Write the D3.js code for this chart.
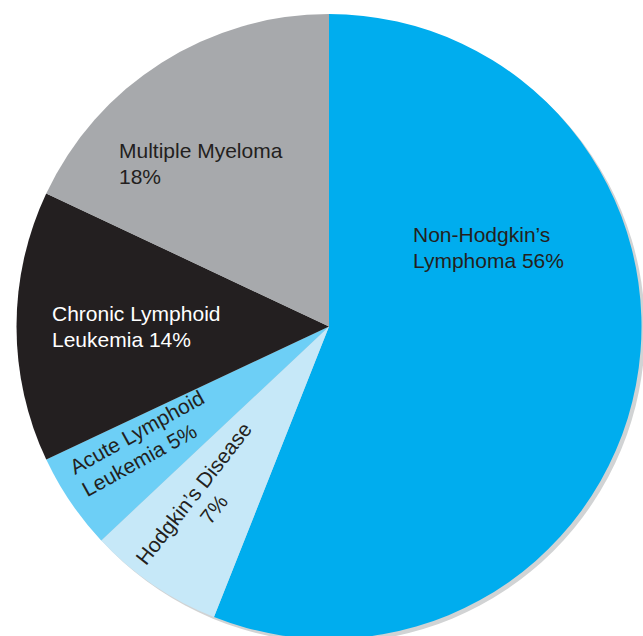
<!DOCTYPE html>
<html>
<head>
<meta charset="utf-8">
<script src="https://cdn.jsdelivr.net/npm/d3@7"></script>
<style>
  html, body { margin: 0; padding: 0; background: #fff; }
  svg { display: block; }
</style>
</head>
<body>
<div id="chart"></div>
<script>
// data
const categories = ["Non-Hodgkin’s Lymphoma", "Hodgkin’s Disease", "Acute Lymphoid Leukemia", "Chronic Lymphoid Leukemia", "Multiple Myeloma"];
const values = [56, 7, 5, 14, 18];
const labelLines = [
    ["Non-Hodgkin’s", "Lymphoma 56%"],
    ["Hodgkin’s Disease", "7%"],
    ["Acute Lymphoid", "Leukemia 5%"],
    ["Chronic Lymphoid", "Leukemia 14%"],
    ["Multiple Myeloma", "18%"]
];

const width = 643;
const height = 636;
const cx = 329, cy = 326.5, radius = 312.5;

const colors = ["#00adee", "#c6e8f8", "#6dcff6", "#231f20", "#a7a9ac"];
const textColors = ["#231f20", "#231f20", "#231f20", "#ffffff", "#231f20"];

// label placement (anchor x,y, rotation, text-anchor)
const labelPos = [
    { x: 413, y: 242, rot: 0, anchor: "start" },
    { x: 199.5, y: 498, rot: -52, anchor: "middle" },
    { x: 75, y: 475, rot: -29, anchor: "start" },
    { x: 52, y: 321, rot: 0, anchor: "start" },
    { x: 119, y: 158, rot: 0, anchor: "start" }
];
const lineHeight = 25.5;

const svg = d3.select("#chart")
    .append("svg")
    .attr("width", width)
    .attr("height", height);

const pie = d3.pie().sort(null).value(d => d);
const arcs = pie(values);
const arc = d3.arc().innerRadius(0).outerRadius(radius);

// shadow
svg.append("circle")
    .attr("cx", cx + 3.5)
    .attr("cy", cy + 3.5)
    .attr("r", radius)
    .attr("fill", "#d1d3d4");

const g = svg.append("g")
    .attr("transform", "translate(" + cx + "," + cy + ")");

g.selectAll("path")
    .data(arcs)
    .enter().append("path")
    .attr("d", arc)
    .attr("fill", (d, i) => colors[i]);

// labels
labelLines.forEach(function (lines, i) {
    const p = labelPos[i];
    const t = svg.append("text")
        .attr("transform", "translate(" + p.x + "," + p.y + ") rotate(" + p.rot + ")")
        .attr("text-anchor", p.anchor)
        .attr("font-family", "'Liberation Sans', Arial, Helvetica, sans-serif")
        .attr("font-size", "21px")
        .attr("fill", textColors[i]);
    lines.forEach(function (line, j) {
        t.append("tspan")
            .attr("x", 0)
            .attr("y", j * lineHeight)
            .text(line);
    });
});
</script>
</body>
</html>
